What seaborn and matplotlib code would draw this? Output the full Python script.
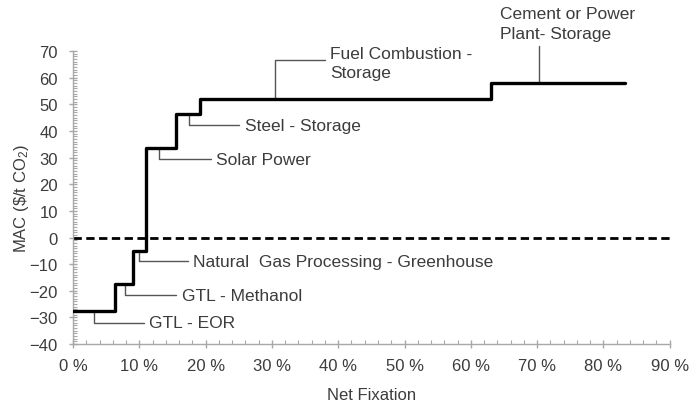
"""
MAC curve: marginal abatement cost vs net CO2 fixation
"""

import numpy as np
import pandas as pd
import matplotlib
matplotlib.use("Agg")
import matplotlib.pyplot as plt
from matplotlib.ticker import MultipleLocator
import seaborn as sns

# Step data (left edge of each step, % net fixation) and MAC ($/t CO2)
step_start = [0.0, 6.4, 9.1, 11.0, 15.6, 19.2, 63.1, 83.2]
mac_value = [-27.5, -17.5, -5.0, 33.5, 46.5, 52.0, 58.0, 58.0]

# Options labelled on the curve
option_names = ["GTL - EOR", "GTL - Methanol", "Natural  Gas Processing - Greenhouse",
                "Solar Power", "Steel - Storage", "Fuel Combustion -\nStorage",
                "Cement or Power\nPlant- Storage"]
option_step = [0, 1, 2, 3, 4, 5, 6]  # which step each label points to

x_ticks = np.arange(0, 100, 10)
y_ticks = np.arange(-40, 80, 10)

# Leader layout: anchor x on step, elbow y, text x, text y
leader_x = [3.1, 7.9, 9.9, 13.0, 17.5, 30.4, 70.3]
elbow_y = [-32.0, -21.7, -8.9, 29.3, 42.2, 66.7, 71.7]
text_x = [11.5, 16.4, 18.1, 21.6, 25.9, 38.8, 64.4]
text_y = [-32.0, -21.7, -8.9, 29.3, 42.2, 65.5, 80.3]

TEXT = "#3c3c3c"
SPINE = "#a8a8a8"

sns.set_style("white")
plt.rcParams["font.family"] = ["Liberation Sans", "DejaVu Sans"]
plt.rcParams["mathtext.fontset"] = "custom"
plt.rcParams["mathtext.rm"] = "Liberation Sans"
plt.rcParams["mathtext.it"] = "Liberation Sans"

fig = plt.figure(figsize=(6.89, 4.06), dpi=100)
ax = fig.add_axes([0.106, 0.150, 0.866, 0.722])

df = pd.DataFrame({"fix": step_start, "mac": mac_value})
sns.lineplot(data=df, x="fix", y="mac", ax=ax, estimator=None, color="black",
             lw=2.4, drawstyle="steps-post", zorder=3)

ax.axhline(0, color="black", lw=2, dashes=(3, 1.6), zorder=2)

# leader lines + labels
for name, i, lx, ey, tx, ty in zip(option_names, option_step, leader_x,
                                   elbow_y, text_x, text_y):
    y0 = mac_value[i]
    if i == 6:
        ax.plot([lx, lx], [y0, ey], color="#555555", lw=1, clip_on=False, zorder=2)
        ax.text(tx, ty, name, ha="left", va="center", fontsize=12.5,
                color=TEXT, linespacing=1.35, clip_on=False)
    else:
        ax.plot([lx, lx, tx - 0.8], [y0, ey, ey], color="#555555", lw=1,
                clip_on=False, zorder=2)
        ax.text(tx, ty, name, ha="left", va="center", fontsize=12.5,
                color=TEXT, linespacing=1.35)

ax.set_xlim(0, 90)
ax.set_ylim(-40, 70)
ax.set_xticks(x_ticks)
ax.set_xticklabels([f"{t} %" for t in x_ticks])
ax.set_yticks(y_ticks)
ax.xaxis.set_minor_locator(MultipleLocator(2))
ax.yaxis.set_minor_locator(MultipleLocator(1))

ax.tick_params(axis="both", which="major", direction="inout", length=6,
               width=1, color=SPINE, labelsize=12, labelcolor=TEXT)
ax.tick_params(axis="x", which="major", pad=7)
ax.tick_params(axis="y", which="major", pad=8)
ax.tick_params(axis="both", which="minor", direction="in", length=3,
               width=0.8, color=SPINE)
ax.tick_params(axis="x", which="both", bottom=True)
ax.tick_params(axis="y", which="both", left=True)

for side in ["top", "right"]:
    ax.spines[side].set_visible(False)
for side in ["left", "bottom"]:
    ax.spines[side].set_color(SPINE)
    ax.spines[side].set_linewidth(1)

ax.set_xlabel("Net Fixation", fontsize=12, color=TEXT, labelpad=10)
ax.set_ylabel(r"MAC (\$/t CO$_2$)", fontsize=12, color=TEXT, labelpad=-1)

fig.savefig("out.png", dpi=100)
